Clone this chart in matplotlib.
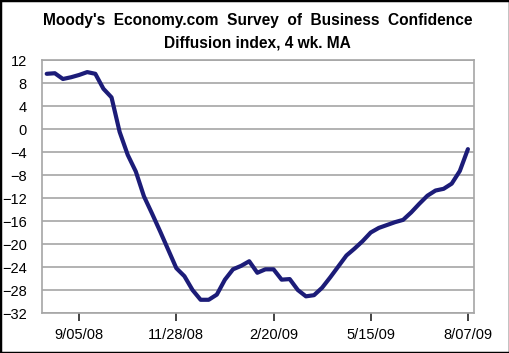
import numpy as np
import pandas as pd
import matplotlib
matplotlib.use("Agg")
import matplotlib.pyplot as plt
import matplotlib.dates as mdates
from matplotlib.patches import Rectangle

# weekly readings, 4 wk. moving average
weeks = pd.date_range("2008-08-08", "2009-08-07", freq="7D")
index_values = [
    9.6, 9.7, 8.7, 9.0, 9.4, 9.9, 9.6, 7.0, 5.5, -0.5,
    -4.5, -7.4, -11.7, -14.7, -17.8, -21.0, -24.2, -25.6, -28.0, -29.7,
    -29.7, -28.8, -26.2, -24.4, -23.8, -23.0, -25.0, -24.4, -24.4, -26.2,
    -26.1, -28.0, -29.1, -28.9, -27.6, -25.8, -23.9, -22.0, -20.8, -19.5,
    -18.0, -17.2, -16.7, -16.2, -15.8, -14.5, -13.0, -11.6, -10.7, -10.4,
    -9.5, -7.3, -3.5,
]
tick_dates = pd.to_datetime(["2008-09-05", "2008-11-28", "2009-02-20",
                             "2009-05-15", "2009-08-07"])
y_ticks = list(range(12, -36, -4))

plt.rcParams["font.family"] = ["Liberation Sans", "DejaVu Sans"]

fig = plt.figure(figsize=(5.10, 3.53), dpi=100)
ax = fig.add_axes([0.0824, 0.1133, 0.8470, 0.7167])

ax.plot(weeks, index_values, color="#1c1c78", linewidth=3.0,
        solid_joinstyle="round", solid_capstyle="round")

ax.set_ylim(-32, 12)
ax.set_yticks(y_ticks)
ax.yaxis.grid(True, color="#a6a6a6", linewidth=1.2)
ax.set_axisbelow(True)
ax.tick_params(axis="y", length=0, pad=11, labelsize=10.5)

one_week = pd.Timedelta(days=7)
ax.set_xlim(weeks[0] - 0.58 * one_week, weeks[-1] + 0.75 * one_week)
ax.set_xticks(tick_dates)
ax.set_xticklabels([d.strftime("%-m/%d/%y") for d in tick_dates])
ax.tick_params(axis="x", direction="out", length=6, width=1.2,
               color="#222222", pad=5, labelsize=10.5)

for side in ["left", "right", "top", "bottom"]:
    ax.spines[side].set_color("#a6a6a6")
    ax.spines[side].set_linewidth(1.2)

fig.text(0.505, 0.943, "Moody's  Economy.com  Survey  of  Business  Confidence",
         ha="center", va="center", fontsize=11.2, fontweight="bold")
fig.text(0.505, 0.878, "Diffusion index, 4 wk. MA",
         ha="center", va="center", fontsize=11.2, fontweight="bold")

fig.patches.append(Rectangle((0, 0), 1, 1, transform=fig.transFigure,
                             fill=False, edgecolor="black", linewidth=2.5))

fig.savefig("out.png", dpi=100)
